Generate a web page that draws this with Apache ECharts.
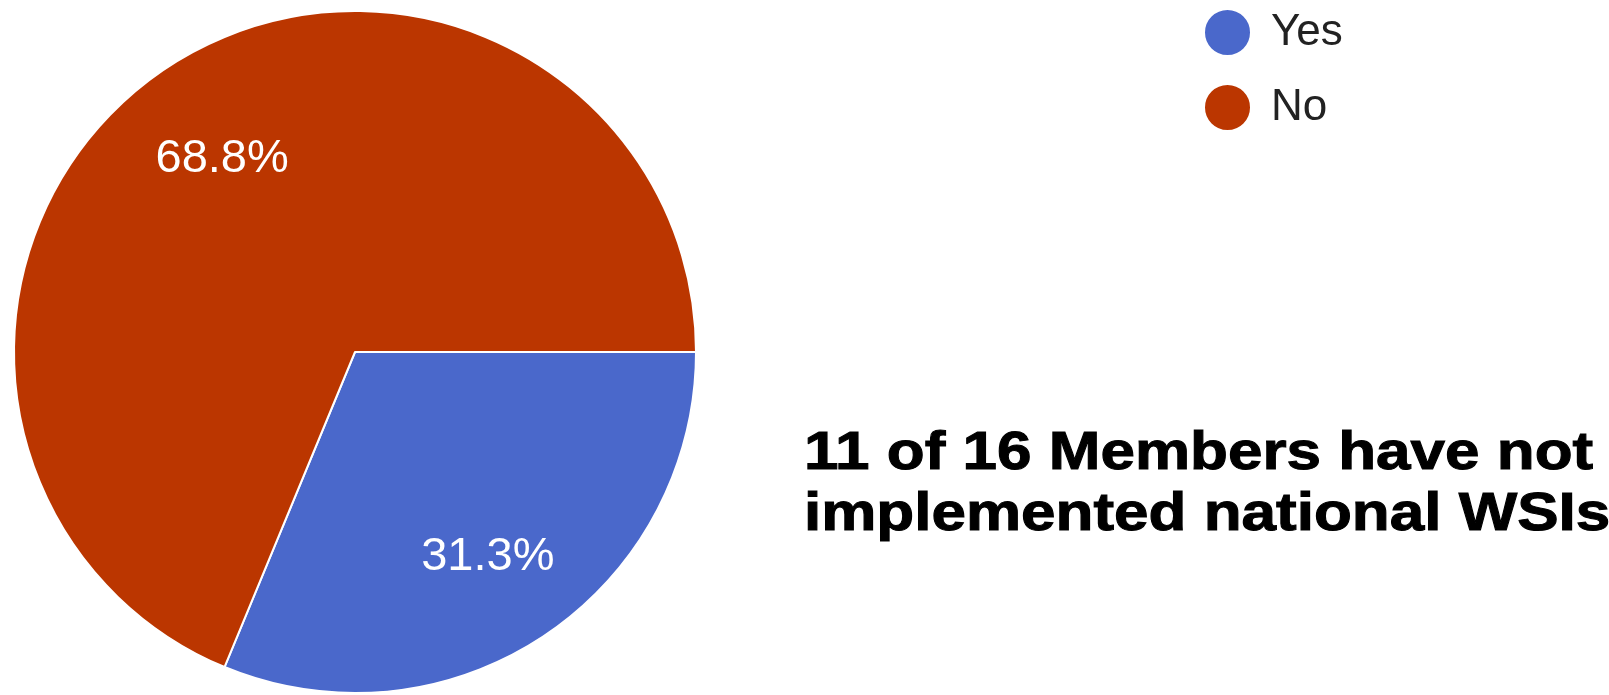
<!DOCTYPE html>
<html>
<head>
<meta charset="utf-8">
<script src="https://cdn.jsdelivr.net/npm/echarts@6/dist/echarts.min.js"></script>
<style>
  html, body { margin: 0; padding: 0; background: #ffffff; }
  #chart { width: 1609px; height: 695px; }
</style>
</head>
<body>
<div id="chart"></div>
<script>
// Survey answers: members that have implemented national WSIs
const categories = ['Yes', 'No'];
const counts = [5, 11];
const colors = ['#4a68cb', '#bb3600'];
const headline = ['11 of 16 Members have not', 'implemented national WSIs'];

const total = counts.reduce((a, b) => a + b, 0);
const pieData = categories.map((name, i) => ({ name, value: counts[i], itemStyle: { color: colors[i] } }));

const CENTER = [355, 352];
const RADIUS = 341;

const chart = echarts.init(document.getElementById('chart'), null, { renderer: 'canvas' });

chart.setOption({
  backgroundColor: '#ffffff',
  animation: false,
  legend: {
    orient: 'vertical',
    left: 1203,
    top: 8,
    padding: 0,
    icon: 'circle',
    itemWidth: 47,
    itemHeight: 47,
    itemGap: 26,
    selectedMode: false,
    data: categories.map((name, i) => ({ name, itemStyle: { color: colors[i] } })),
    textStyle: {
      fontFamily: 'Arial, "Liberation Sans", sans-serif',
      fontSize: 44,
      color: '#222222',
      padding: [0, 0, 0, 15]
    }
  },
  series: [
    {
      // the visible pie
      type: 'pie',
      center: CENTER,
      radius: [0, RADIUS],
      startAngle: 0,
      clockwise: true,
      silent: true,
      label: { show: false },
      labelLine: { show: false },
      itemStyle: { borderColor: '#ffffff', borderWidth: 2 },
      data: pieData
    },
    {
      // transparent twin used only to place the percentage labels further out
      type: 'pie',
      center: CENTER,
      radius: [0, RADIUS * 1.385],
      startAngle: 0,
      clockwise: true,
      silent: true,
      z: 3,
      itemStyle: { color: 'rgba(0,0,0,0)', borderWidth: 0 },
      label: {
        show: true,
        position: 'inside',
        color: '#ffffff',
        fontFamily: 'Arial, "Liberation Sans", sans-serif',
        fontSize: 47,
        offset: [0, 6],
        formatter: p => (p.value / total * 100).toFixed(1) + '%'
      },
      labelLine: { show: false },
      data: categories.map((name, i) => ({ name, value: counts[i] }))
    }
  ],
  graphic: [
    {
      type: 'text',
      x: 804,
      y: 424,
      scaleX: 1.17,
      silent: true,
      style: {
        text: headline.join('\n'),
        font: 'bold 53px "Liberation Sans", Arial, sans-serif',
        fill: '#000000',
        stroke: '#000000',
        lineWidth: 1,
        lineHeight: 61,
        textAlign: 'left',
        textVerticalAlign: 'top'
      }
    }
  ]
});
</script>
</body>
</html>
